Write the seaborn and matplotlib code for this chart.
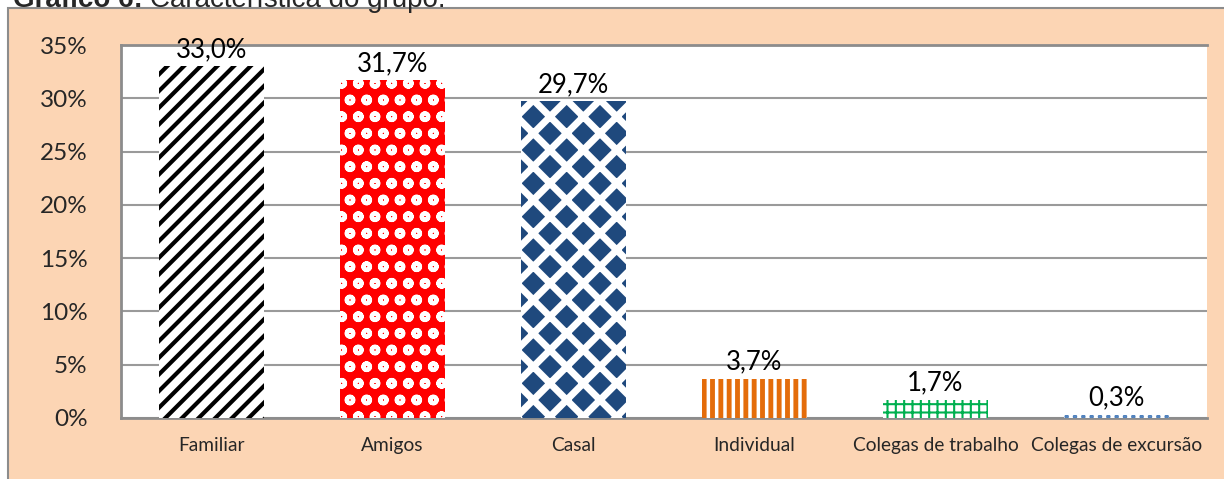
import matplotlib.pyplot as plt
import pandas as pd
import seaborn as sns
from matplotlib.patches import Rectangle

# data
categorias = ["Familiar", "Amigos", "Casal", "Individual",
              "Colegas de trabalho", "Colegas de excursão"]
percentuais = [33.0, 31.7, 29.7, 3.7, 1.7, 0.3]
rotulos = ["33,0%", "31,7%", "29,7%", "3,7%", "1,7%", "0,3%"]

# bar styles: face colour, hatch colour, hatch, hatch width
faces = ["white", "#FF0000", "#1F497D", "white", "white", "white"]
hatch_cores = ["black", "white", "white", "#E46C0A", "#00B050", "#4F81BD"]
hatches = ["//", "o", "x", "||", "++", ".."]
hatch_lw = [3, 3, 5, 3.5, 1.5, 2]

df = pd.DataFrame({"cat": categorias, "pct": percentuais})

sns.set_theme(style="white")
plt.rcParams["font.family"] = ["Lato", "DejaVu Sans"]
plt.rcParams["hatch.linewidth"] = 3

fig = plt.figure(figsize=(12.24, 4.79), dpi=100)
fig.patch.set_facecolor("white")

# peach chart area
fig.patches.append(Rectangle((8 / 1224, -0.05), 1.1, 1 - 8 / 479 + 0.05,
                             transform=fig.transFigure, facecolor="#FCD5B4",
                             edgecolor="#8C8C8C", linewidth=1.5, zorder=-10))

# title, half cut off at the top
t1 = fig.text(0.011, 1 - 7 / 479, "Gráfico 6:", fontsize=20, fontweight="bold",
              va="baseline", ha="left", family=["Liberation Sans"])
fig.canvas.draw()
bb = t1.get_window_extent(renderer=fig.canvas.get_renderer())
fig.text((bb.x1 + 7) / fig.bbox.width, 1 - 7 / 479, "Característica do grupo.",
         fontsize=20, va="baseline", ha="left", family=["Liberation Sans"])

ax = fig.add_axes([121 / 1224, 1 - 418 / 479, (1207 - 121) / 1224, (418 - 45) / 479])
ax.set_facecolor("white")

sns.barplot(data=df, x="cat", y="pct", hue="cat", palette=faces,
            width=0.58, legend=False, ax=ax, saturation=1)

for patch, hc, h, lw in zip(ax.patches, hatch_cores, hatches, hatch_lw):
    patch.set_edgecolor(hc)
    patch.set_linewidth(0)
    patch.set_hatch(h)
    if hasattr(patch, "set_hatch_linewidth"):
        patch.set_hatch_linewidth(lw)
    patch.set_zorder(3)

for i, (v, lab) in enumerate(zip(percentuais, rotulos)):
    ax.text(i, v + 0.4, lab, ha="center", va="bottom", fontsize=18.5,
            color="black", zorder=4)

ax.set_ylim(0, 35)
ax.set_yticks(range(0, 36, 5))
ax.set_yticklabels([f"{t}%" for t in range(0, 36, 5)], fontsize=17.5)
ax.yaxis.grid(True, color="#9A9A9A", linewidth=1.5, zorder=1)
ax.set_axisbelow(True)
ax.tick_params(axis="y", pad=24, length=0)
ax.tick_params(axis="x", pad=14, length=0, labelsize=13.8)
ax.set_xlabel("")
ax.set_ylabel("")

for side in ["top", "left", "bottom"]:
    ax.spines[side].set_color("#8C8C8C")
    ax.spines[side].set_linewidth(2)
ax.spines["right"].set_visible(False)

fig.savefig("out.png", dpi=100, facecolor=fig.get_facecolor())
